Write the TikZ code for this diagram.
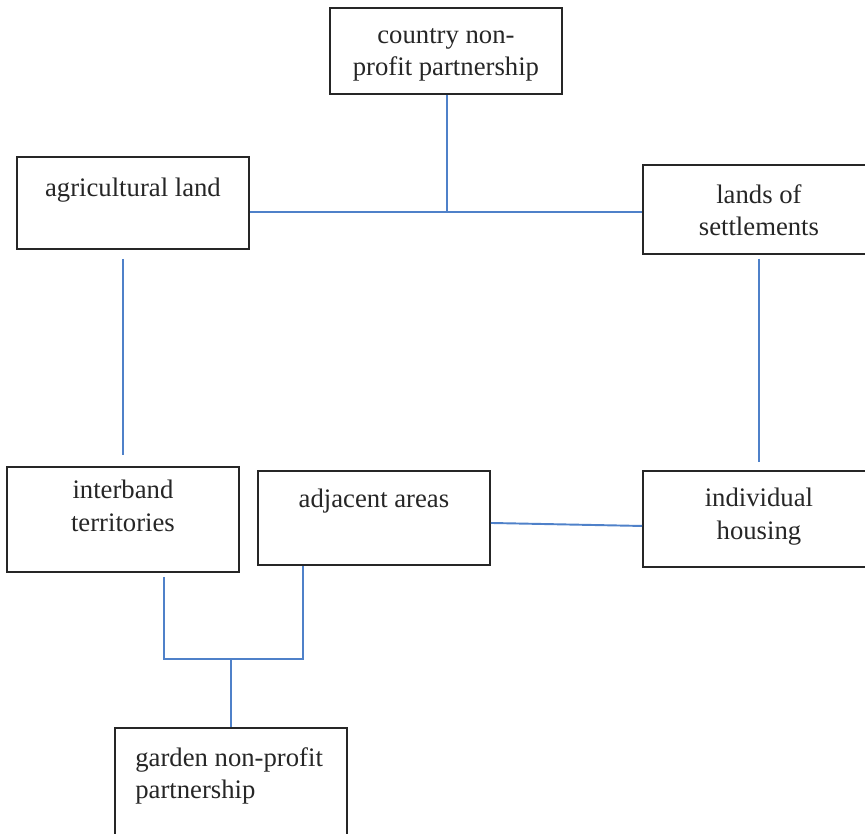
\documentclass[tikz,border=0pt]{standalone}
\usepackage{fontspec}
\setmainfont{Liberation Serif}
\usetikzlibrary{positioning}

\definecolor{linkblue}{RGB}{79,129,201}
\tikzset{
  box/.style={draw=black!85, line width=1.1pt, anchor=north west, minimum width=4.64cm, inner sep=0pt},
  lbl/.style={font=\fontsize{15.2}{18.5}\selectfont, text=black!85, align=center, inner sep=0pt, execute at begin node=\strut},
  link/.style={draw=linkblue, line width=1.1pt},
}

\begin{document}
\begin{tikzpicture}[x=0.02cm, y=-0.02cm]
  \clip (0,0) rectangle (865,833);

  % boxes
  \node[box, minimum height=1.72cm] (country) at (329,7) {};
  \node[box, minimum height=1.84cm] (agri) at (16,156) {};
  \node[box, minimum height=1.78cm] (lands) at (642,164) {};
  \node[box, minimum height=2.10cm] (inter) at (6,466) {};
  \node[box, minimum height=1.88cm] (adj) at (257,470) {};
  \node[box, minimum height=1.92cm] (indiv) at (642,470) {};
  \node[box, minimum height=2.40cm] (garden) at (114,727) {};

  % texts
  \node[lbl, below=0.42cm of country.north] (countryt) {country non-\\profit partnership};
  \node[lbl, below=0.34cm of agri.north] (agrit) {agricultural land};
  \node[lbl, below=0.40cm of lands.north] (landst) {lands of\\settlements};
  \node[lbl, below=0.28cm of inter.north] (intert) {interband\\territories};
  \node[lbl, below=0.28cm of adj.north] (adjt) {adjacent areas};
  \node[lbl, below=0.36cm of indiv.north] (indivt) {individual\\housing};
  \node[lbl, align=left, below right=0.40cm and 0.42cm of garden.north west] (gardent) {garden non-profit\\partnership};

  % connectors
  \coordinate (hub) at (447,212);
  \draw[link] (country.south -| hub) -- (hub);
  \draw[link] (agri.east |- hub) -- (lands.west |- hub);
  \draw[link, shorten <=0.18cm, shorten >=0.22cm] (agri.south -| inter.north) -- (inter.north);
  \draw[link, shorten <=0.08cm, shorten >=0.16cm] (lands.south) -- (indiv.north);
  \draw[link] ([yshift=-0.10cm]adj.east) -- ([yshift=-0.14cm]indiv.west);

  \coordinate (forkl) at (164,659);
  \coordinate (forkr) at (303,659);
  \coordinate (fork) at (231,659);
  \draw[link, shorten <=0.08cm] (inter.south -| forkl) -- (forkl) -- (forkr) -- (adj.south -| forkr);
  \draw[link] (fork) -- (garden.north -| fork);
\end{tikzpicture}
\end{document}
